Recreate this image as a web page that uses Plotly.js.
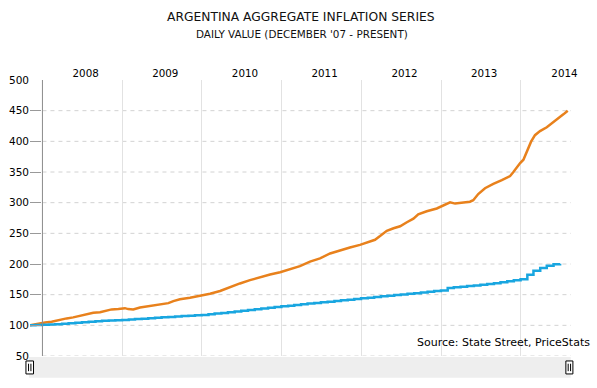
<!DOCTYPE html>
<html>
<head>
<meta charset="utf-8">
<script src="https://cdn.plot.ly/plotly-3.0.1.min.js"></script>
<style>
  html, body { margin: 0; padding: 0; background: #fff; }
  #chart { width: 597px; height: 388px; }
</style>
</head>
<body>
<div id="chart"></div>
<script>
// ---- Data ----
var orangeDates = [
  "2007-11-05","2007-12-13","2008-01-13","2008-02-12","2008-03-06","2008-03-21","2008-04-21","2008-05-21",
  "2008-06-21","2008-07-22","2008-08-21","2008-09-21","2008-10-14","2008-11-13","2008-12-14","2008-12-31",
  "2009-01-13","2009-01-28","2009-02-20","2009-03-23","2009-05-08","2009-06-23","2009-07-31","2009-08-23",
  "2009-09-22","2009-11-07","2009-12-23","2010-02-07","2010-03-25","2010-05-09","2010-06-24","2010-08-09",
  "2010-09-24","2010-11-09","2010-12-25","2011-02-08","2011-03-26","2011-05-11","2011-06-26","2011-08-11",
  "2011-09-26","2011-11-10","2011-12-26","2012-02-10","2012-03-04","2012-03-27","2012-04-27","2012-05-28",
  "2012-06-27","2012-07-28","2012-08-27","2012-09-18","2012-10-27","2012-12-12","2013-01-04","2013-01-27",
  "2013-02-11","2013-03-06","2013-04-13","2013-05-13","2013-05-28","2013-06-20","2013-07-21","2013-08-13",
  "2013-08-28","2013-10-06","2013-11-13","2013-11-28","2013-12-14","2013-12-29","2014-01-13","2014-01-28",
  "2014-02-17","2014-03-07","2014-03-30","2014-04-30","2014-05-30","2014-06-30","2014-07-15","2014-08-04"
];
var orangeValues = [
  100.0,102.8,104.5,106.0,108.0,109.6,111.3,113.0,
  115.3,118.4,120.6,121.3,123.4,126.0,126.7,127.0,
  128.0,126.5,125.9,129.0,131.6,133.8,136.2,139.5,
  142.5,145.0,148.2,151.5,156.0,162.3,168.3,173.7,
  178.5,182.8,186.6,190.9,196.5,204.0,209.1,217.2,
  222.6,226.9,231.2,237.6,239.5,245.5,254.0,258.2,
  261.5,268.0,274.0,281.0,286.0,290.5,294.0,298.6,
  300.5,298.5,300.0,301.5,304.0,314.0,323.5,328.4,
  330.5,336.6,343.5,350.0,358.0,364.5,370.0,383.0,
  399.5,410.0,416.7,423.0,431.0,439.0,444.0,450.0
];

var blueDates = [
  "2007-11-05","2007-11-30","2007-12-31",
  "2008-01-31","2008-02-29","2008-03-31","2008-04-30","2008-05-31","2008-06-30",
  "2008-07-31","2008-08-31","2008-09-30","2008-10-31","2008-11-30","2008-12-31",
  "2009-01-31","2009-02-28","2009-03-31","2009-04-30","2009-05-31","2009-06-30",
  "2009-07-31","2009-08-31","2009-09-30","2009-10-31","2009-11-30","2009-12-31",
  "2010-01-31","2010-02-28","2010-03-31","2010-04-30","2010-05-31","2010-06-30",
  "2010-07-31","2010-08-31","2010-09-30","2010-10-31","2010-11-30","2010-12-31",
  "2011-01-31","2011-02-28","2011-03-31","2011-04-30","2011-05-31","2011-06-30",
  "2011-07-31","2011-08-31","2011-09-30","2011-10-31","2011-11-30","2011-12-31",
  "2012-01-31","2012-02-29","2012-03-31","2012-04-30","2012-05-31","2012-06-30",
  "2012-07-31","2012-08-31","2012-09-30","2012-10-31","2012-11-30","2012-12-31",
  "2013-01-31","2013-02-28","2013-03-31","2013-04-30","2013-05-31","2013-06-30",
  "2013-07-31","2013-08-31","2013-09-30","2013-10-31","2013-11-30","2013-12-31",
  "2014-01-31","2014-02-28","2014-03-31","2014-04-30","2014-05-31","2014-06-30"
];
var blueValues = [
  100.0,100.4,100.9,
  101.3,101.8,102.5,103.2,104.3,105.0,
  105.8,106.6,107.3,107.9,108.4,108.8,
  109.5,110.2,110.9,111.6,112.3,113.0,
  113.7,114.4,115.1,115.8,116.4,117.0,
  118.1,119.2,120.3,121.5,122.6,123.8,
  125.0,126.2,127.4,128.6,129.8,131.0,
  132.1,133.2,134.3,135.4,136.5,137.5,
  138.6,139.7,140.8,141.9,143.0,144.0,
  145.1,146.2,147.3,148.3,149.3,150.3,
  151.4,152.5,153.6,154.7,155.8,156.9,
  160.8,162.0,163.0,164.0,165.0,166.0,
  167.2,168.5,170.2,171.8,173.4,175.2,
  182.5,188.8,193.6,197.2,199.5,200.5
];

var yearLabels = ["2008","2009","2010","2011","2012","2013","2014"];
var yearLabelDates = ["2008-07-17","2009-07-17","2010-07-17","2011-07-17","2012-07-17","2013-07-17","2014-07-20"];
var yearStarts = ["2009-01-01","2010-01-01","2011-01-01","2012-01-01","2013-01-01","2014-01-01"];
var yGridValues = [50, 100, 150, 200, 250, 300, 350, 400, 450];

var titleText = "ARGENTINA AGGREGATE INFLATION SERIES";
var subtitleText = "DAILY VALUE (DECEMBER '07 - PRESENT)";
var sourceText = "Source: State Street, PriceStats";

// ---- Chart ----
var FONT = "DejaVu Sans, Verdana, sans-serif";
var ORANGE = "#E8811C";
var BLUE = "#19A6E0";
var X_START = "2007-11-05", X_END = "2014-08-19", AXIS_DATE = "2008-01-01";

var traces = [
  { x: orangeDates, y: orangeValues, type: "scatter", mode: "lines",
    line: { color: ORANGE, width: 2.5 }, hoverinfo: "skip" },
  { x: blueDates, y: blueValues, type: "scatter", mode: "lines",
    line: { color: BLUE, width: 2.5, shape: "hv" }, hoverinfo: "skip" }
];

function handle(x0, x1) {
  var cx = (x0 + x1) / 2;
  return [
    { type: "rect", xref: "paper", yref: "paper", x0: x0, x1: x1, y0: -0.018, y1: -0.065,
      fillcolor: "#ffffff", line: { color: "#000", width: 1 } },
    { type: "line", xref: "paper", yref: "paper", x0: cx - 0.0022, x1: cx - 0.0022, y0: -0.028, y1: -0.055,
      line: { color: "#000", width: 1 } },
    { type: "line", xref: "paper", yref: "paper", x0: cx + 0.0022, x1: cx + 0.0022, y0: -0.028, y1: -0.055,
      line: { color: "#000", width: 1 } }
  ];
}

var gridShapes = yGridValues.map(function (v) {
  return { type: "line", xref: "x", yref: "y", x0: AXIS_DATE, x1: X_END, y0: v, y1: v,
    line: { color: "#d2d2d2", width: 1, dash: "4px,4px" }, layer: "below" };
});

var shapes = [
  { type: "rect", xref: "paper", yref: "paper", x0: -0.002, x1: 0.9995, y0: -0.004, y1: -0.079,
    fillcolor: "#eeeeee", line: { width: 0 }, layer: "below" },
  { type: "line", xref: "x", yref: "paper", x0: AXIS_DATE, x1: AXIS_DATE, y0: 0, y1: 1,
    line: { color: "#8c8c8c", width: 1 } }
].concat(gridShapes).concat(handle(-0.0075, 0.0065)).concat(handle(0.9905, 1.0035));

var layout = {
  width: 597, height: 388,
  margin: { l: 30, r: 26, t: 80, b: 32, pad: 0 },
  paper_bgcolor: "#ffffff", plot_bgcolor: "#ffffff",
  showlegend: false,
  font: { family: FONT, size: 10, color: "#000" },
  xaxis: {
    type: "date",
    range: [X_START, X_END],
    side: "top",
    tickmode: "array", tickvals: yearLabelDates, ticktext: yearLabels,
    ticks: "", showgrid: false, zeroline: false, showline: false,
    tickfont: { family: FONT, size: 10.3, color: "#000" },
    minor: { tickmode: "array", tickvals: yearStarts, showgrid: true, gridcolor: "#e2e2e2", gridwidth: 1, ticks: "" },
    fixedrange: true
  },
  yaxis: {
    range: [50, 500],
    tickmode: "linear", tick0: 50, dtick: 50,
    ticks: "inside", ticklen: 11, tickcolor: "#999", tickwidth: 1,
    showgrid: false, zeroline: false, showline: false,
    tickfont: { family: FONT, size: 10.5, color: "#000" },
    fixedrange: true
  },
  shapes: shapes,
  annotations: [
    { text: titleText, xref: "paper", yref: "paper", x: 0.5, y: 1.228, xanchor: "center", yanchor: "middle",
      showarrow: false, font: { family: FONT, size: 12.3, color: "#111" } },
    { text: subtitleText, xref: "paper", yref: "paper", x: 0.503, y: 1.1667, xanchor: "center", yanchor: "middle",
      showarrow: false, font: { family: FONT, size: 10.4, color: "#111" } },
    { text: sourceText, xref: "paper", yref: "paper", x: 1.0388, y: 0.0507, xanchor: "right", yanchor: "middle",
      showarrow: false, font: { family: FONT, size: 11, color: "#000" } }
  ]
};

Plotly.newPlot("chart", traces, layout, { displayModeBar: false, staticPlot: true });
</script>
</body>
</html>
